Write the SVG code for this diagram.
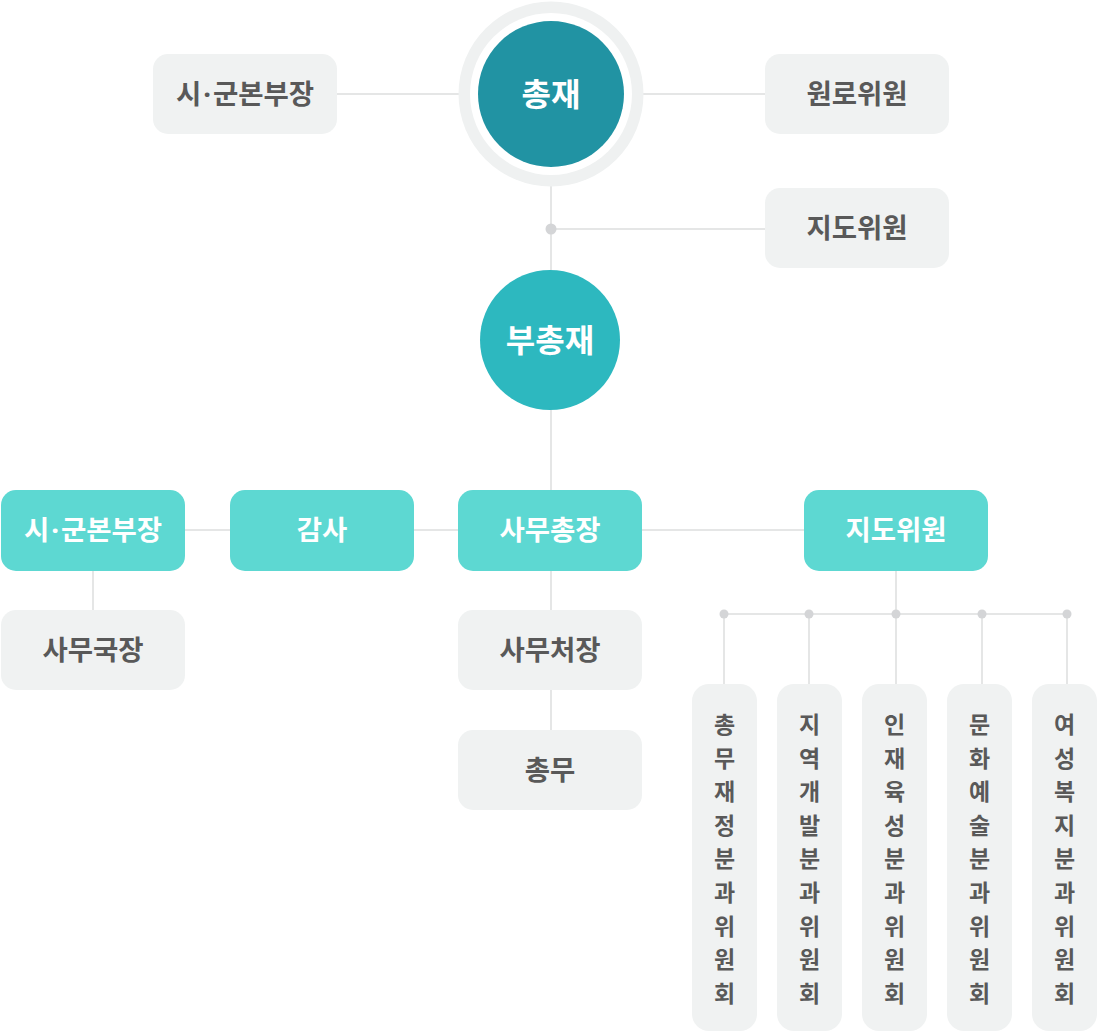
<svg xmlns="http://www.w3.org/2000/svg" width="1098" height="1032" viewBox="0 0 1098 1032">
<defs>
<style>
.line{stroke:#e5e6e6;stroke-width:2;fill:none}
.dot{fill:#d4d5d7}
.gbox{fill:#f0f2f2}
.tbox{fill:#5dd8d2}
.gt{font-family:"Noto Sans CJK KR","Noto Sans",sans-serif;font-weight:700;font-size:27.5px;fill:#595959;text-anchor:middle}
.wt{font-family:"Noto Sans CJK KR","Noto Sans",sans-serif;font-weight:700;font-size:27.5px;fill:#ffffff;text-anchor:middle}
.ct{font-family:"Noto Sans CJK KR","Noto Sans",sans-serif;font-weight:700;font-size:32px;fill:#ffffff;text-anchor:middle}
.vt{font-family:"Noto Sans CJK KR","Noto Sans",sans-serif;font-weight:700;font-size:23px;fill:#595959;text-anchor:middle}
.md{font-family:"Noto Sans","DejaVu Sans",sans-serif}
</style>
</defs>
<rect width="1098" height="1032" fill="#ffffff"/>
<g id="connectors">
<line class="line" x1="337" y1="94" x2="460" y2="94"/>
<line class="line" x1="641" y1="94" x2="765" y2="94"/>
<line class="line" x1="551" y1="186" x2="551" y2="272"/>
<line class="line" x1="551" y1="229" x2="765" y2="229"/>
<line class="line" x1="551" y1="408" x2="551" y2="490"/>
<line class="line" x1="185" y1="530" x2="230" y2="530"/>
<line class="line" x1="414" y1="530" x2="458" y2="530"/>
<line class="line" x1="642" y1="530" x2="804" y2="530"/>
<line class="line" x1="93" y1="571" x2="93" y2="610"/>
<line class="line" x1="551" y1="571" x2="551" y2="610"/>
<line class="line" x1="551" y1="690" x2="551" y2="730"/>
<line class="line" x1="896" y1="571" x2="896" y2="614"/>
<line class="line" x1="724" y1="614" x2="1067" y2="614"/>
<line class="line" x1="724" y1="614" x2="724" y2="684"/>
<line class="line" x1="809" y1="614" x2="809" y2="684"/>
<line class="line" x1="896" y1="614" x2="896" y2="684"/>
<line class="line" x1="982" y1="614" x2="982" y2="684"/>
<line class="line" x1="1067" y1="614" x2="1067" y2="684"/>
<circle class="dot" cx="551" cy="229" r="5.5"/>
<circle class="dot" cx="724" cy="614" r="4.5"/>
<circle class="dot" cx="809" cy="614" r="4.5"/>
<circle class="dot" cx="896" cy="614" r="4.5"/>
<circle class="dot" cx="982" cy="614" r="4.5"/>
<circle class="dot" cx="1067" cy="614" r="4.5"/>
</g>
<g id="president">
<circle cx="551" cy="94" r="92.5" fill="#eff1f1"/>
<circle cx="551" cy="94" r="81" fill="#ffffff"/>
<circle cx="551" cy="94" r="73" fill="#2193a3"/>
<text class="ct" x="551" y="106">총재</text>
</g>
<g id="vice-president">
<circle cx="550" cy="340" r="70" fill="#2db8bf"/>
<text class="ct" x="550" y="352">부총재</text>
</g>
<g id="top-branch-head">
<rect class="gbox" x="153" y="54" width="184" height="80" rx="15"/>
<text class="gt" x="245" y="104">시<tspan class="md" dx="2">·</tspan><tspan dx="2">군본부장</tspan></text>
</g>
<g id="elder-members">
<rect class="gbox" x="765" y="54" width="184" height="80" rx="15"/>
<text class="gt" x="857" y="104">원로위원</text>
</g>
<g id="top-advisors">
<rect class="gbox" x="765" y="188" width="184" height="80" rx="15"/>
<text class="gt" x="857" y="238">지도위원</text>
</g>
<g id="branch-head">
<rect class="tbox" x="1" y="490" width="184" height="81" rx="15"/>
<text class="wt" x="93" y="540">시<tspan class="md" dx="2">·</tspan><tspan dx="2">군본부장</tspan></text>
</g>
<g id="auditor">
<rect class="tbox" x="230" y="490" width="184" height="81" rx="15"/>
<text class="wt" x="322" y="540">감사</text>
</g>
<g id="secretary-general">
<rect class="tbox" x="458" y="490" width="184" height="81" rx="15"/>
<text class="wt" x="550" y="540">사무총장</text>
</g>
<g id="advisors">
<rect class="tbox" x="804" y="490" width="184" height="81" rx="15"/>
<text class="wt" x="896" y="540">지도위원</text>
</g>
<g id="office-director">
<rect class="gbox" x="1" y="610" width="184" height="80" rx="15"/>
<text class="gt" x="93" y="660">사무국장</text>
</g>
<g id="office-chief">
<rect class="gbox" x="458" y="610" width="184" height="80" rx="15"/>
<text class="gt" x="550" y="660">사무처장</text>
</g>
<g id="general-affairs">
<rect class="gbox" x="458" y="730" width="184" height="80" rx="15"/>
<text class="gt" x="550" y="780">총무</text>
</g>
<g id="committee-1">
<rect class="gbox" x="692" y="684" width="65" height="347" rx="17"/>
<text class="vt" x="724.5" y="733"><tspan x="724.5">총</tspan><tspan x="724.5" dy="33.6">무</tspan><tspan x="724.5" dy="33.6">재</tspan><tspan x="724.5" dy="33.6">정</tspan><tspan x="724.5" dy="33.6">분</tspan><tspan x="724.5" dy="33.6">과</tspan><tspan x="724.5" dy="33.6">위</tspan><tspan x="724.5" dy="33.6">원</tspan><tspan x="724.5" dy="33.6">회</tspan></text>
</g>
<g id="committee-2">
<rect class="gbox" x="777" y="684" width="65" height="347" rx="17"/>
<text class="vt" x="809.5" y="733"><tspan x="809.5">지</tspan><tspan x="809.5" dy="33.6">역</tspan><tspan x="809.5" dy="33.6">개</tspan><tspan x="809.5" dy="33.6">발</tspan><tspan x="809.5" dy="33.6">분</tspan><tspan x="809.5" dy="33.6">과</tspan><tspan x="809.5" dy="33.6">위</tspan><tspan x="809.5" dy="33.6">원</tspan><tspan x="809.5" dy="33.6">회</tspan></text>
</g>
<g id="committee-3">
<rect class="gbox" x="862" y="684" width="65" height="347" rx="17"/>
<text class="vt" x="894.5" y="733"><tspan x="894.5">인</tspan><tspan x="894.5" dy="33.6">재</tspan><tspan x="894.5" dy="33.6">육</tspan><tspan x="894.5" dy="33.6">성</tspan><tspan x="894.5" dy="33.6">분</tspan><tspan x="894.5" dy="33.6">과</tspan><tspan x="894.5" dy="33.6">위</tspan><tspan x="894.5" dy="33.6">원</tspan><tspan x="894.5" dy="33.6">회</tspan></text>
</g>
<g id="committee-4">
<rect class="gbox" x="947" y="684" width="65" height="347" rx="17"/>
<text class="vt" x="979.5" y="733"><tspan x="979.5">문</tspan><tspan x="979.5" dy="33.6">화</tspan><tspan x="979.5" dy="33.6">예</tspan><tspan x="979.5" dy="33.6">술</tspan><tspan x="979.5" dy="33.6">분</tspan><tspan x="979.5" dy="33.6">과</tspan><tspan x="979.5" dy="33.6">위</tspan><tspan x="979.5" dy="33.6">원</tspan><tspan x="979.5" dy="33.6">회</tspan></text>
</g>
<g id="committee-5">
<rect class="gbox" x="1032" y="684" width="65" height="347" rx="17"/>
<text class="vt" x="1064.5" y="733"><tspan x="1064.5">여</tspan><tspan x="1064.5" dy="33.6">성</tspan><tspan x="1064.5" dy="33.6">복</tspan><tspan x="1064.5" dy="33.6">지</tspan><tspan x="1064.5" dy="33.6">분</tspan><tspan x="1064.5" dy="33.6">과</tspan><tspan x="1064.5" dy="33.6">위</tspan><tspan x="1064.5" dy="33.6">원</tspan><tspan x="1064.5" dy="33.6">회</tspan></text>
</g>
</svg>
